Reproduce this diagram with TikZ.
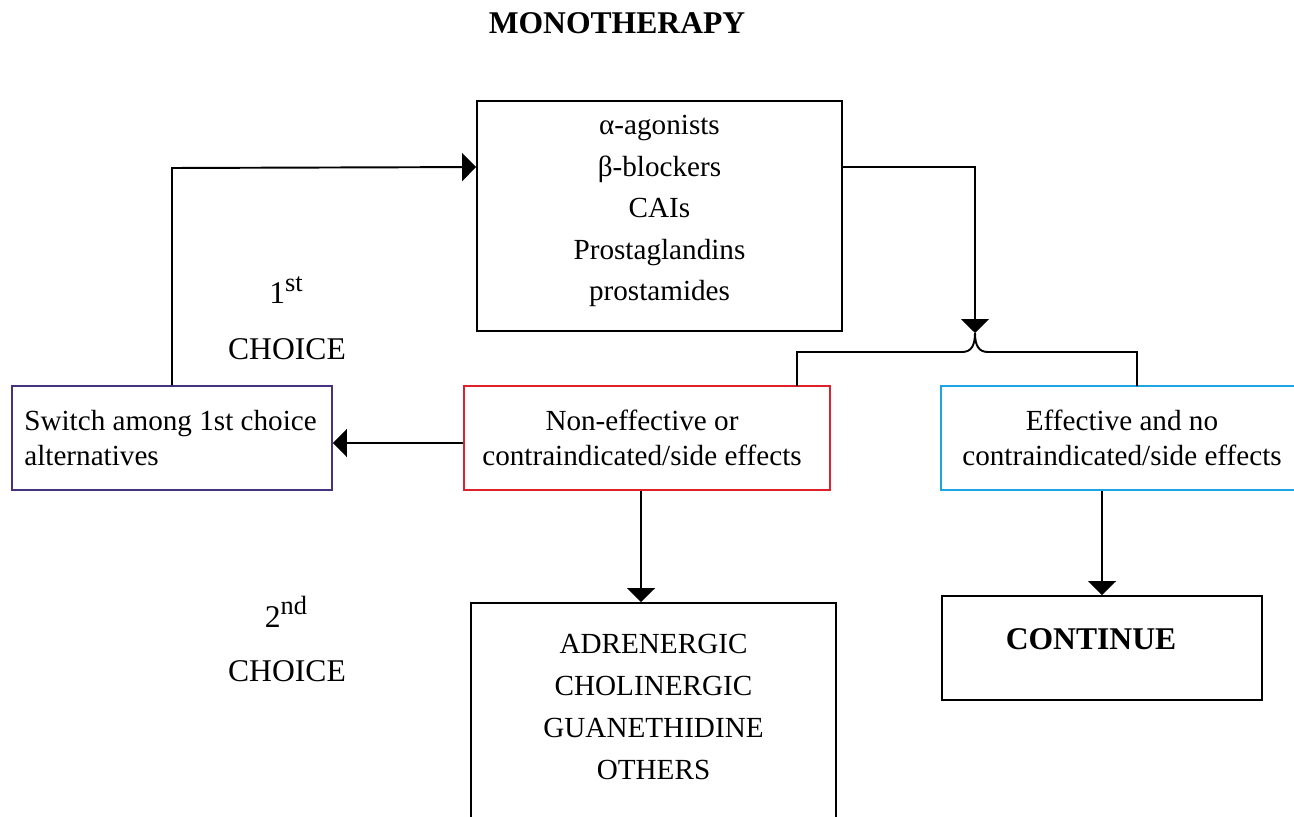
\documentclass[tikz,border=0pt]{standalone}
\usepackage{fontspec}
\setmainfont{Liberation Serif}
\usetikzlibrary{arrows.meta}
\definecolor{cpurple}{HTML}{46327F}
\definecolor{cred}{HTML}{E0202A}
\definecolor{cblue}{HTML}{1BA6E2}
\begin{document}
\begin{tikzpicture}[x=0.02cm,y=-0.02cm,
  box/.style={draw,line width=1.1pt,inner sep=0pt},
  txt/.style={inner sep=0pt,align=center,font=\fontsize{16.6}{19.9}\selectfont},
  txtbig/.style={inner sep=0pt,align=center,font=\fontsize{16.6}{23.6}\selectfont},
  lbl/.style={inner sep=0pt,font=\fontsize{18}{20}\selectfont},
  conn/.style={line width=1.1pt},
  arr/.style={line width=1.1pt,-{Triangle[length=0.28cm,width=0.56cm]}}]
\useasboundingbox (0,0) rectangle (1294,817);
\clip (0,0) rectangle (1294,817);
\fill[white] (0,0) rectangle (1294,817);
% title
\node[inner sep=0pt,font=\fontsize{18}{20}\selectfont\bfseries] (title) at (617,23) {MONOTHERAPY};
% top box
\node[box,minimum width=7.3cm,minimum height=4.6cm] (top) at (659.5,216) {};
\node[txtbig] (toptxt) at (659.5,211) {α-agonists\\β-blockers\\CAIs\\Prostaglandins\\prostamides};
% second row
\node[box,draw=cpurple,minimum width=6.4cm,minimum height=2.08cm] (sw) at (172,438) {};
\node[txt,align=left,anchor=west] (swtxt) at (24,438) {Switch among 1st choice\\alternatives};
\node[box,draw=cred,minimum width=7.32cm,minimum height=2.08cm] (red) at (647,438) {};
\node[txt] (redtxt) at (642,438) {Non-effective or\\contraindicated/side effects};
\node[box,draw=cblue,minimum width=7.24cm,minimum height=2.08cm] (blue) at (1122,438) {};
\node[txt] (bluetxt) at (blue.center) {Effective and no\\contraindicated/side effects};
% bottom boxes
\node[box,minimum width=7.3cm,minimum height=4.54cm] (b2) at (653.5,716.5) {};
\node[txtbig,font=\fontsize{16.6}{23.9}\selectfont] (b2txt) at (653.5,707) {ADRENERGIC\\CHOLINERGIC\\GUANETHIDINE\\OTHERS};
\node[box,minimum width=6.4cm,minimum height=2.08cm] (cont) at (1102,648) {};
\node[inner sep=0pt,font=\fontsize{18}{20}\selectfont\bfseries] (conttxt) at (1091,639) {CONTINUE};
% labels
\node[lbl] (c1) at (286,290) {1\raisebox{0.25cm}{\fontsize{15}{15}\selectfont st}};
\node[lbl] (c1b) at (287,349) {CHOICE};
\node[lbl] (c2) at (286,612) {2\raisebox{0.25cm}{\fontsize{15}{15}\selectfont nd}};
\node[lbl] (c2b) at (287,671) {CHOICE};
% connectors
\draw[arr] (sw.north) -- (sw.north |- 0,168) -- ([yshift=-1.34cm]top.north west);
\coordinate (tip) at (975,333);
\draw[arr] ([yshift=-1.34cm]top.north east) -| (tip);
\coordinate (bl) at (797,386);
\coordinate (br) at (1137,386);
\draw[conn] (bl) -- (797,352) -- (962,352) .. controls (971,352) and (975,346) .. (tip)
  .. controls (975,346) and (979,352) .. (988,352) -- (1137,352) -- (br);
\draw[arr] ([yshift=-0.1cm]red.west) -- ([yshift=-0.1cm]sw.east);
\draw[arr] ([xshift=-0.12cm]red.south) -- ([xshift=-0.12cm]red.south |- b2.north);
\draw[arr] (cont.north |- blue.south) -- (cont.north);
\end{tikzpicture}
\end{document}
